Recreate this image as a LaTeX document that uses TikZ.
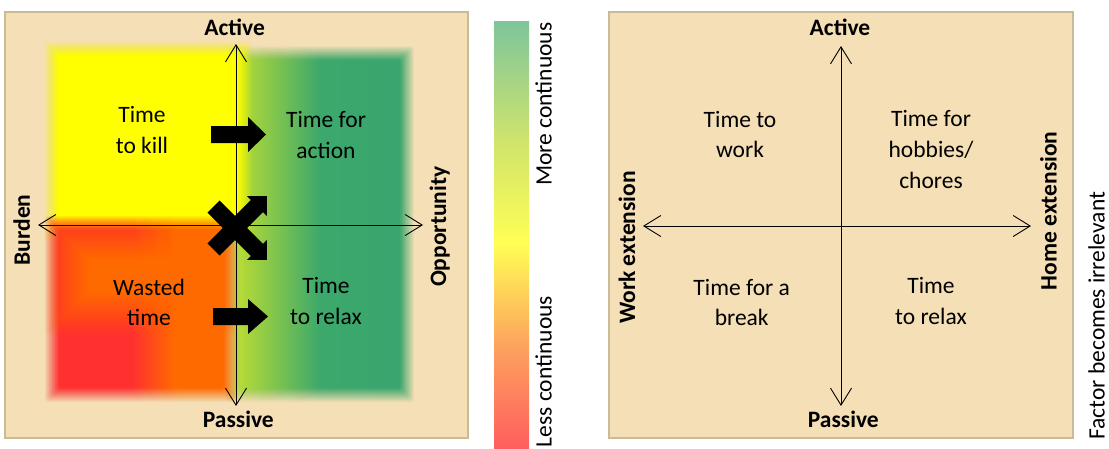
\documentclass[tikz,border=0pt]{standalone}
\usepackage{fontspec}
\setmainfont{Carlito}
\usetikzlibrary{arrows.meta}
\definecolor{beige}{HTML}{F4DFB6}
\definecolor{panelborder}{HTML}{C9BB97}
\definecolor{ylw}{HTML}{FFFF00}
\definecolor{grnL}{HTML}{B4DA36}
\definecolor{grnM}{HTML}{3CA86C}
\definecolor{grnD}{HTML}{38A66E}
\definecolor{redc}{HTML}{FF3030}
\definecolor{orgc}{HTML}{FF6A00}
\definecolor{cbR}{HTML}{FF5E5E}
\definecolor{cbO}{HTML}{FDA35E}
\definecolor{cbY}{HTML}{FFFF55}
\definecolor{cbL}{HTML}{CFE46C}
\definecolor{cbG}{HTML}{7DC59B}
\pgfdeclarehorizontalshading{orgshade}{100bp}{color(0bp)=(redc); color(25bp)=(redc); color(47bp)=(redc); color(60bp)=(orgc); color(100bp)=(orgc)}
\pgfdeclareverticalshading{cbarshade}{100bp}{color(0bp)=(cbR); color(25bp)=(cbR); color(37bp)=(cbO); color(49bp)=(cbY); color(61bp)=(cbL); color(75bp)=(cbG); color(100bp)=(cbG)}
% soft-edged box: linear opacity ramp of width #6 inside the outer rectangle
\newcommand\softbox[6]{%
  \foreach \k [evaluate=\k as \op using 1/(20-\k)] in {0,...,19}{%
    \path[#1, fill opacity=\op, rounded corners=3pt] ({#2+\k*#6/20},{#3+\k*#6/20}) rectangle ({#4-\k*#6/20},{#5-\k*#6/20});
  }}
\tikzset{
  lbl/.style={font=\fontsize{23.5}{30.7}\selectfont\bfseries, inner sep=0pt},
  txt/.style={font=\fontsize{23.5}{30.7}\selectfont, align=center, inner sep=0pt},
  rtxt/.style={font=\fontsize{23.5}{30.7}\selectfont, inner sep=0pt},
  axisline/.style={line width=0.9pt, {Straight Barb[length=17pt,width=21pt]}-{Straight Barb[length=17pt,width=21pt]}},
  blk/.style={fill=black},
  panel/.style={fill=beige, draw=panelborder, line width=1.2pt}
}
\begin{document}
\begin{tikzpicture}[x=1pt,y=-1pt]
\useasboundingbox (0,0) rectangle (1109,448);
% ---------- left panel ----------
\path[panel] (5,12) rectangle (468,438);
\softbox{left color=grnL, right color=grnD, middle color=grnM}{226}{46}{414}{402}{15}
\softbox{fill=ylw}{44}{41}{252}{240}{15}
\softbox{shade, shading=orgshade}{45}{216}{238}{402}{15}
\softbox{fill=orgc}{45}{216}{238}{335}{45}
\coordinate (LT) at (236,44);
\coordinate (LB) at (236,406);
\coordinate (LL) at (38,225);
\coordinate (LR) at (423,225);
\draw[axisline] (LT) -- (LB);
\draw[axisline] (LL) -- (LR);
% block arrows
\fill[blk] (211,126) -- (248,126) -- (248,117) -- (266,134.5) -- (248,152) -- (248,143) -- (211,143) -- cycle;
\fill[blk] (213,308) -- (248,308) -- (248,299) -- (268,316.5) -- (248,334) -- (248,325) -- (213,325) -- cycle;
% cross with two arrow heads
\begin{scope}[shift={(235,228)},rotate=45]
\fill[blk] (-30.4,-8.5) -- (31,-8.5) -- (31,-14) -- (45,0) -- (31,14) -- (31,8.5) -- (-30.4,8.5) -- cycle;
\end{scope}
\begin{scope}[shift={(235,228)},rotate=-45]
\fill[blk] (-30.4,-8.5) -- (31,-8.5) -- (31,-14) -- (45,0) -- (31,14) -- (31,8.5) -- (-30.4,8.5) -- cycle;
\end{scope}
\node[lbl, anchor=base] (lact) at (234.7,35.7) {Active};
\node[lbl, anchor=base] (lpas) at (238.3,427.7) {Passive};
\node[lbl, anchor=base, rotate=90] (lbur) at (30,230) {Burden};
\node[lbl, anchor=base, rotate=90] (lopp) at (446,226.7) {Opportunity};
\node[txt] (tkill) at (142,130.3) {Time\\to kill};
\node[txt] (taction) at (326,134.7) {Time for\\action};
\node[txt] (twaste) at (149,302.5) {Wasted\\time};
\node[txt] (trelaxL) at (326,301.3) {Time\\to relax};
% ---------- colour bar ----------
\shade[shading=cbarshade] (494,21) rectangle (529,448);
\node[rtxt, rotate=90, anchor=base] (more) at (551.7,104.2) {More continuous};
\node[rtxt, rotate=90, anchor=base] (less) at (551.7,371.5) {Less continuous};
% ---------- right panel ----------
\path[panel] (609,12) rectangle (1073,438);
\coordinate (RT) at (841,46);
\coordinate (RB) at (841,406);
\coordinate (RL) at (643,226);
\coordinate (RR) at (1031,226);
\draw[axisline] (RT) -- (RB);
\draw[axisline] (RL) -- (RR);
\node[lbl, anchor=base] (ract) at (840,35) {Active};
\node[lbl, anchor=base] (rpas) at (843.3,427.7) {Passive};
\node[lbl, anchor=base, rotate=90] (rwork) at (635,247.5) {Work extension};
\node[lbl, anchor=base, rotate=90] (rhome) at (1056.7,210.8) {Home extension};
\node[rtxt, anchor=base, rotate=90] (rfac) at (1104.5,315.8) {Factor becomes irrelevant};
\node[txt] (twork) at (740,134.5) {Time to\\work};
\node[txt] (thob) at (931,149.5) {Time for\\hobbies/\\chores};
\node[txt] (tbreak) at (741.7,302.5) {Time for a\\break};
\node[txt] (trelaxR) at (931,301) {Time\\to relax};
\end{tikzpicture}
\end{document}
